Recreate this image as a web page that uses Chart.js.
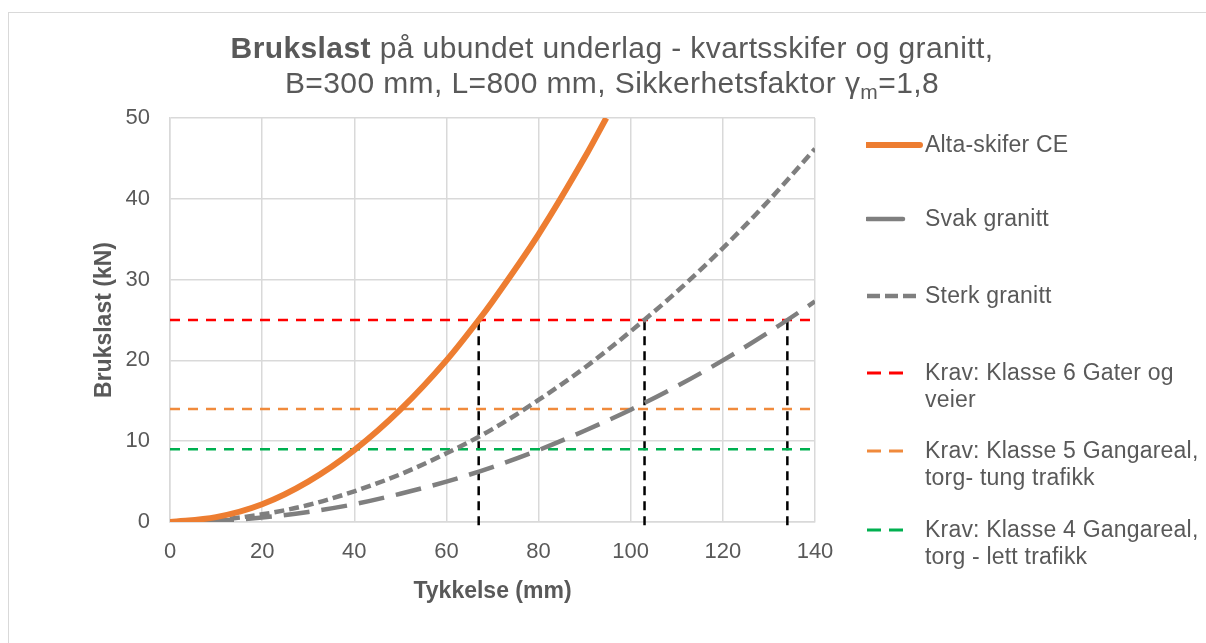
<!DOCTYPE html>
<html>
<head>
<meta charset="utf-8">
<script src="https://cdn.jsdelivr.net/npm/chart.js@4.4.1/dist/chart.umd.min.js"></script>
<style>
  html, body { margin: 0; padding: 0; background: #fff; }
  body { width: 1206px; height: 643px; position: relative; overflow: hidden; font-family: "Liberation Sans", Arial, sans-serif; color: #595959; }
  #frame { position: absolute; left: 8px; top: 12px; width: 1220px; height: 660px; border: 1px solid #d9d9d9; box-sizing: border-box; }
  #wrap { position: absolute; left: 0; top: 0; width: 1206px; height: 643px; }
  #title { position: absolute; left: 112px; width: 1000px; top: 30px; text-align: center; font-size: 30px; line-height: 35px; letter-spacing: 0.4px; }
  #title sub { font-size: 21px; vertical-align: -6px; line-height: 0; }
  .leg { position: absolute; left: 866px; font-size: 23px; line-height: 27px; letter-spacing: 0.2px; }
  .leg svg { position: absolute; left: 0; top: 8px; }
  .leg span { position: absolute; left: 59px; top: 0; white-space: nowrap; }
</style>
</head>
<body>
<div id="frame"></div>
<div id="wrap"><canvas id="chartLoad" width="1206" height="643"></canvas></div>
<div id="title"><b>Brukslast</b> på ubundet underlag - kvartsskifer og granitt,<br>B=300 mm, L=800 mm, Sikkerhetsfaktor γ<sub>m</sub>=1,8</div>
<div id="legend"></div>
<script>
// thickness (mm) and load (kN)
const thickness = [0, 10, 20, 30, 40, 50, 60, 70, 80, 90, 100, 110, 120, 130, 140]
const altaThickness = [0, 10, 20, 30, 40, 50, 60, 67, 70, 80, 90, 94.7]
const altaLoad = [0, 0.6, 2.2, 5.0, 8.9, 13.9, 20.0, 25.0, 27.3, 35.6, 45.1, 50]
const svakLoad = [0, 0.15, 0.55, 1.25, 2.2, 3.5, 5.0, 6.8, 8.9, 11.3, 13.9, 16.8, 20.0, 23.5, 27.3]
const sterkLoad = [0, 0.25, 0.95, 2.1, 3.8, 5.9, 8.5, 11.5, 15.1, 19.1, 23.6, 28.5, 33.9, 39.8, 46.2]
const kravLevels = [25, 14, 9]
const kravColors = ['#ff0000', '#f08a3c', '#00b050']
const crossing = [67, 103, 134]
const xTicks = [0, 20, 40, 60, 80, 100, 120, 140]

const legendItems = [
    { text: ['Alta-skifer CE'], top: 131, color: '#ed7d31', w: 6, dash: '', len: 54, cap: 'round' },
    { text: ['Svak granitt'], top: 205, color: '#7f7f7f', w: 4.5, dash: '', len: 37, cap: 'round' },
    { text: ['Sterk granitt'], top: 282, color: '#7f7f7f', w: 4.5, dash: '13 5', len: 55, cap: 'butt' },
    { text: ['Krav: Klasse 6 Gater og', 'veier'], top: 359, color: '#ff0000', w: 3, dash: '14 8', len: 42, cap: 'butt' },
    { text: ['Krav: Klasse 5 Gangareal,', 'torg- tung trafikk'], top: 437, color: '#f08a3c', w: 3, dash: '14 8', len: 42, cap: 'butt' },
    { text: ['Krav: Klasse 4 Gangareal,', 'torg - lett trafikk'], top: 516, color: '#00b050', w: 3, dash: '14 8', len: 42, cap: 'butt' }
]

function pts(xs, ys) { return xs.map((x, i) => ({ x: x, y: ys[i] })) }

var datasets = [
    { label: 'Alta-skifer CE', data: pts(altaThickness, altaLoad), borderColor: '#ed7d31', borderWidth: 6, cubicInterpolationMode: 'monotone', clip: 0 },
    { label: 'Svak granitt', data: pts(thickness, svakLoad), borderColor: '#7f7f7f', borderWidth: 4.5, borderDash: [26, 12], cubicInterpolationMode: 'monotone' },
    { label: 'Sterk granitt', data: pts(thickness, sterkLoad), borderColor: '#7f7f7f', borderWidth: 4.5, borderDash: [10, 5], cubicInterpolationMode: 'monotone' }
]
kravLevels.forEach((v, i) => {
    datasets.push({ label: 'krav' + i, data: [{ x: 0, y: v }, { x: 140, y: v }], borderColor: kravColors[i], borderWidth: 2.5, borderDash: [10, 8] })
})
crossing.forEach((x) => {
    datasets.push({ label: 'cross', data: [{ x: x, y: -0.4 }, { x: x, y: 25 }], borderColor: '#000000', borderWidth: 2.5, borderDash: [9, 6], clip: false })
})
datasets.forEach(d => { d.pointRadius = 0; d.fill = false })

var tickFont = { family: '"Liberation Sans", Arial, sans-serif', size: 22 }
var titleFont = { family: '"Liberation Sans", Arial, sans-serif', size: 23, weight: 'bold' }

var ctxLoad = document.getElementById('chartLoad').getContext('2d');
var chartLoad = new Chart(ctxLoad, {
    type: 'line',
    data: { datasets: datasets },
    options: {
        responsive: false,
        animation: false,
        layout: { padding: { left: 87, top: 118, right: 391, bottom: 34 } },
        plugins: { legend: { display: false }, tooltip: { enabled: false } },
        scales: {
            x: {
                type: 'linear', min: 0, max: 140,
                afterBuildTicks: (s) => { s.ticks = xTicks.map(v => ({ value: v })) },
                afterFit: (s) => { s.height = 87 },
                grid: { color: '#d9d9d9', drawTicks: false, lineWidth: 1.5 },
                border: { color: '#d9d9d9', width: 1.5 },
                ticks: { color: '#595959', font: tickFont, padding: 17, maxRotation: 0 },
                title: { display: true, text: 'Tykkelse (mm)', color: '#595959', font: titleFont }
            },
            y: {
                min: 0, max: 50,
                afterFit: (s) => { s.width = 83 },
                grid: { color: '#d9d9d9', drawTicks: false, lineWidth: 1.5 },
                border: { color: '#d9d9d9', width: 1.5 },
                ticks: { color: '#595959', font: tickFont, padding: 20, stepSize: 10 },
                title: { display: true, text: 'Brukslast (kN)', color: '#595959', font: titleFont }
            }
        }
    }
});

var legendBox = document.getElementById('legend');
legendItems.forEach(it => {
    var d = document.createElement('div');
    d.className = 'leg';
    d.style.top = it.top + 'px';
    d.innerHTML = '<svg width="60" height="12"><line x1="1" y1="6" x2="' + it.len + '" y2="6" stroke="' + it.color +
        '" stroke-width="' + it.w + '" stroke-linecap="' + it.cap + '"' + (it.dash ? ' stroke-dasharray="' + it.dash + '"' : '') + '/></svg>' +
        '<span>' + it.text.join('<br>') + '</span>';
    legendBox.appendChild(d);
});
</script>
</body>
</html>
